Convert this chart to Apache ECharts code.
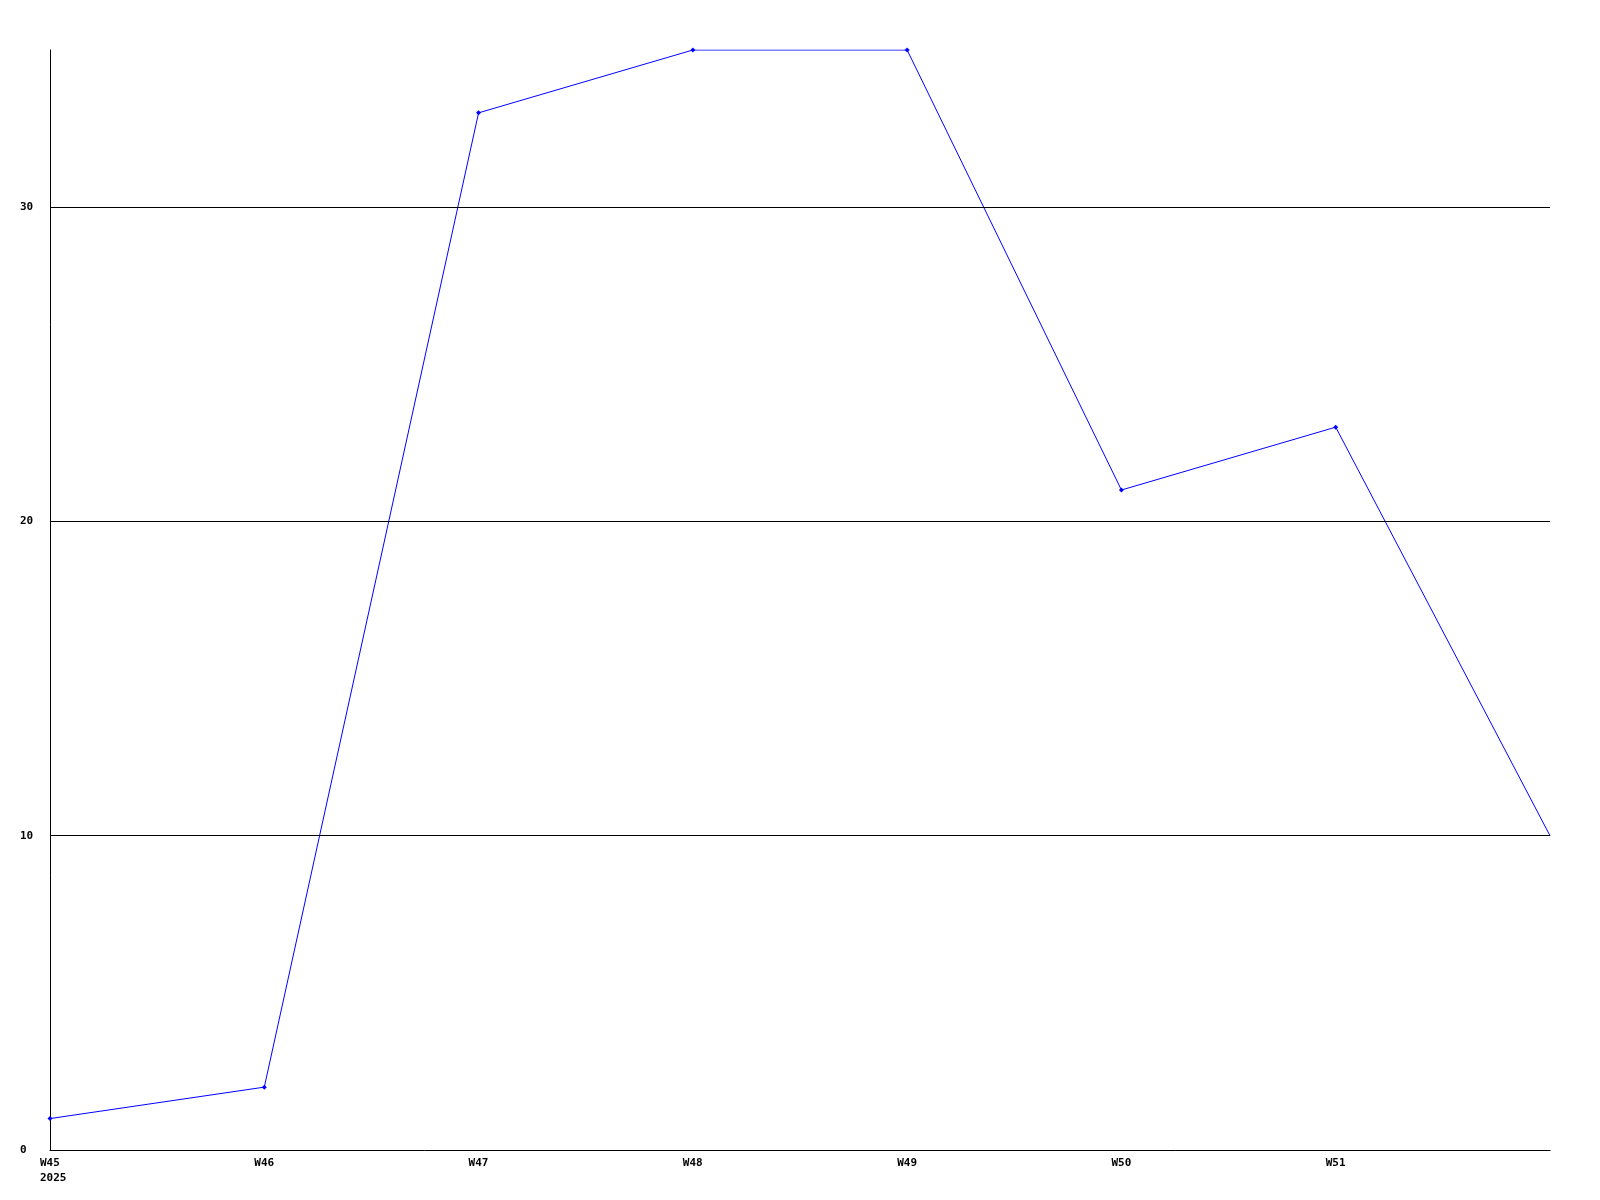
<!DOCTYPE html>
<html>
<head>
<meta charset="utf-8">
<script src="https://cdn.jsdelivr.net/npm/echarts@6/dist/echarts.min.js"></script>
<style>html,body{margin:0;padding:0;background:#fff}#c{width:1600px;height:1200px}</style>
</head>
<body>
<div id="c"></div>
<script>
const categories = ['W45\n2025', 'W46', 'W47', 'W48', 'W49', 'W50', 'W51', ''];
const values = [1, 2, 33, 35, 35, 21, 23, 10];
const yTicks = [0, 10, 20, 30];

const chart = echarts.init(document.getElementById('c'), null, {renderer: 'canvas'});
const font = {fontFamily: 'DejaVu Sans Mono', fontWeight: 'bold', fontSize: 11, color: '#000'};
chart.setOption({
  animation: false,
  backgroundColor: '#fff',
  grid: {left: 50, right: 50, top: 50, bottom: 50, containLabel: false},
  xAxis: {
    type: 'category',
    data: categories,
    boundaryGap: false,
    axisLine: {lineStyle: {color: '#000', width: 1}},
    axisTick: {show: false},
    axisLabel: Object.assign({
      interval: 0, margin: 6, align: 'center',
      formatter: v => v ? v.split('\n').map(s => '{a|' + s + '}').join('\n') : '',
      rich: {a: Object.assign({width: 20, align: 'left', lineHeight: 15}, font)}
    }, font),
    splitLine: {show: false}
  },
  yAxis: {
    type: 'value',
    min: 0, max: 35, interval: 10,
    axisLine: {show: true, lineStyle: {color: '#000', width: 1}},
    axisTick: {show: false},
    axisLabel: Object.assign({showMaxLabel: false, margin: 30, align: 'left',
      formatter: v => yTicks.includes(v) ? String(v) : ''}, font),
    splitLine: {show: false}
  },
  series: [{
    type: 'line',
    data: values.map((v, i) => ({value: v, symbolSize: i === values.length - 1 ? 0 : 5})),
    symbol: 'diamond',
    symbolSize: 5,
    showAllSymbol: true,
    lineStyle: {color: '#0000ff', width: 1},
    itemStyle: {color: '#0000ff'},
    z: 3,
    markLine: {
      silent: true,
      symbol: 'none',
      label: {show: false},
      lineStyle: {color: '#000', width: 1, type: 'solid'},
      emphasis: {disabled: true},
      data: yTicks.filter(t => t > 0).map(t => ({yAxis: t}))
    }
  }]
});
</script>
</body>
</html>
